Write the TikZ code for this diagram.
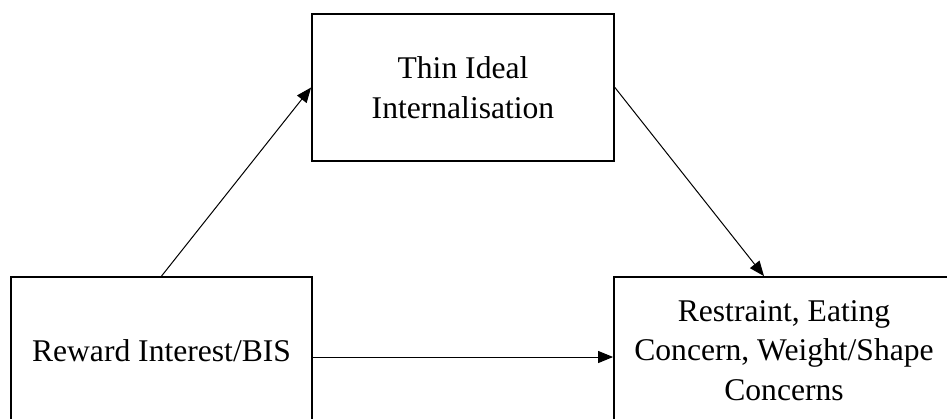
\documentclass[tikz,border=0pt]{standalone}
\usepackage{fontspec}
\setmainfont{Liberation Serif}
\usetikzlibrary{arrows.meta}
\begin{document}
\begin{tikzpicture}[x=1pt,y=-1pt,
  box/.style={draw=black, line width=1.8pt, rectangle, inner sep=0pt,
    minimum height=147pt, align=center,
    font=\fontsize{31.6}{39.5}\selectfont},
  link/.style={draw=black, line width=1pt, -{Triangle[length=15pt,width=12pt]}}]
\useasboundingbox (0,0) rectangle (947,418);
\begin{scope}
\clip (0,0) rectangle (947,418);
\node[box, minimum width=302pt] (thin) at (463,87.5) {Thin Ideal\\Internalisation};
\node[box, minimum width=301pt] (reward) at (161.5,350.5) {Reward Interest/BIS};
\node[box, minimum width=340pt] (outcome) at (784,350.5) {Restraint, Eating\\Concern, Weight/Shape\\Concerns};
\draw[link] (reward.north) -- (thin.west);
\draw[link] (thin.east) -- ([xshift=-20pt]outcome.north);
\draw[link] ([yshift=-6.5pt]reward.east) -- ([yshift=-6.5pt]outcome.west);
\end{scope}
\end{tikzpicture}
\end{document}
